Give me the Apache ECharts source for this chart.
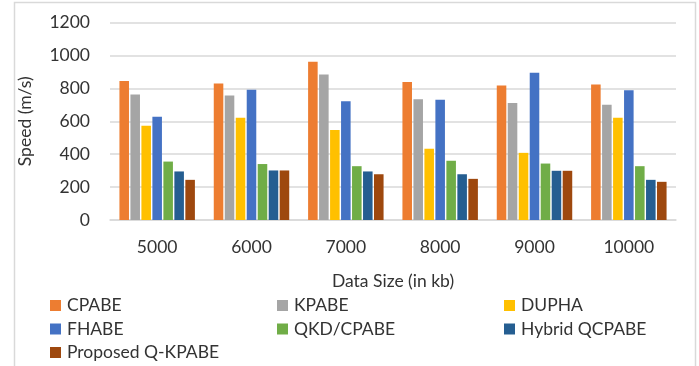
<!DOCTYPE html>
<html>
<head>
<meta charset="utf-8">
<script src="https://cdn.jsdelivr.net/npm/echarts@6/dist/echarts.min.js"></script>
<style>
  html, body { margin: 0; padding: 0; background: #fff; }
  #chart { width: 699px; height: 366px; }
</style>
</head>
<body>
<div id="chart"></div>
<script>
// Data sizes (kb) on the category axis
const dataSizes = ['5000', '6000', '7000', '8000', '9000', '10000'];

// Speed (m/s) per scheme
const cpabe     = [845, 829, 961, 839, 817, 823];
const kpabe     = [762, 756, 884, 734, 711, 701];
const dupha     = [573, 622, 547, 433, 408, 622];
const fhabe     = [628, 791, 721, 730, 894, 788];
const qkdCpabe  = [355, 340, 327, 360, 343, 327];
const hybridQc  = [295, 301, 295, 278, 299, 244];
const proposed  = [244, 301, 278, 250, 299, 232];

const seriesNames = ['CPABE', 'KPABE', 'DUPHA', 'FHABE', 'QKD/CPABE', 'Hybrid QCPABE', 'Proposed Q-KPABE'];
const seriesData = [cpabe, kpabe, dupha, fhabe, qkdCpabe, hybridQc, proposed];
const colors = ['#ED7D31', '#A5A5A5', '#FFC000', '#4472C4', '#70AD47', '#255E91', '#9E480E'];

const yTicks = { min: 0, max: 1200, interval: 200 };

const FONT = 'Lato';
const TEXT = '#333333';
const textStyle = { fontFamily: FONT, fontSize: 17.5, color: TEXT };

const chart = echarts.init(document.getElementById('chart'), null, { renderer: 'canvas' });

function legendColumn(names, left) {
  return {
    orient: 'vertical',
    left: left,
    top: 296.5,
    itemWidth: 11,
    itemHeight: 11,
    itemGap: 5.5,
    icon: 'rect',
    padding: 0,
    textStyle: Object.assign({}, textStyle, { lineHeight: 17, padding: [0, 0, 0, 1] }),
    data: names
  };
}

chart.setOption({
  animation: false,
  color: colors,
  graphic: [{
    type: 'rect',
    shape: { x: 14.5, y: 2.5, width: 681, height: 380 },
    style: { fill: 'none', stroke: '#D9D9D9', lineWidth: 1.5 },
    silent: true
  }],
  grid: { left: 110, right: 23, top: 22.5, bottom: 146 },
  legend: [
    legendColumn(['CPABE', 'FHABE', 'Proposed Q-KPABE'], 50),
    legendColumn(['KPABE', 'QKD/CPABE'], 277),
    legendColumn(['DUPHA', 'Hybrid QCPABE'], 504)
  ],
  xAxis: {
    type: 'category',
    data: dataSizes,
    name: 'Data Size (in kb)',
    nameLocation: 'middle',
    nameGap: 52,
    nameTextStyle: textStyle,
    axisLine: { lineStyle: { color: '#D9D9D9', width: 1.5 } },
    axisTick: { show: false },
    axisLabel: Object.assign({ margin: 18 }, textStyle)
  },
  yAxis: {
    type: 'value',
    min: yTicks.min,
    max: yTicks.max,
    interval: yTicks.interval,
    name: 'Speed (m/s)',
    nameLocation: 'middle',
    nameGap: 76,
    nameRotate: 90,
    nameTextStyle: textStyle,
    axisLine: { show: false },
    axisTick: { show: false },
    axisLabel: Object.assign({ margin: 20, formatter: v => String(v) }, textStyle),
    splitLine: { lineStyle: { color: '#D9D9D9', width: 1.5 } }
  },
  series: seriesNames.map((name, i) => ({
    name: name,
    type: 'bar',
    data: seriesData[i],
    barGap: '15%',
    barCategoryGap: '20%',
    itemStyle: { color: colors[i] }
  }))
});
</script>
</body>
</html>
